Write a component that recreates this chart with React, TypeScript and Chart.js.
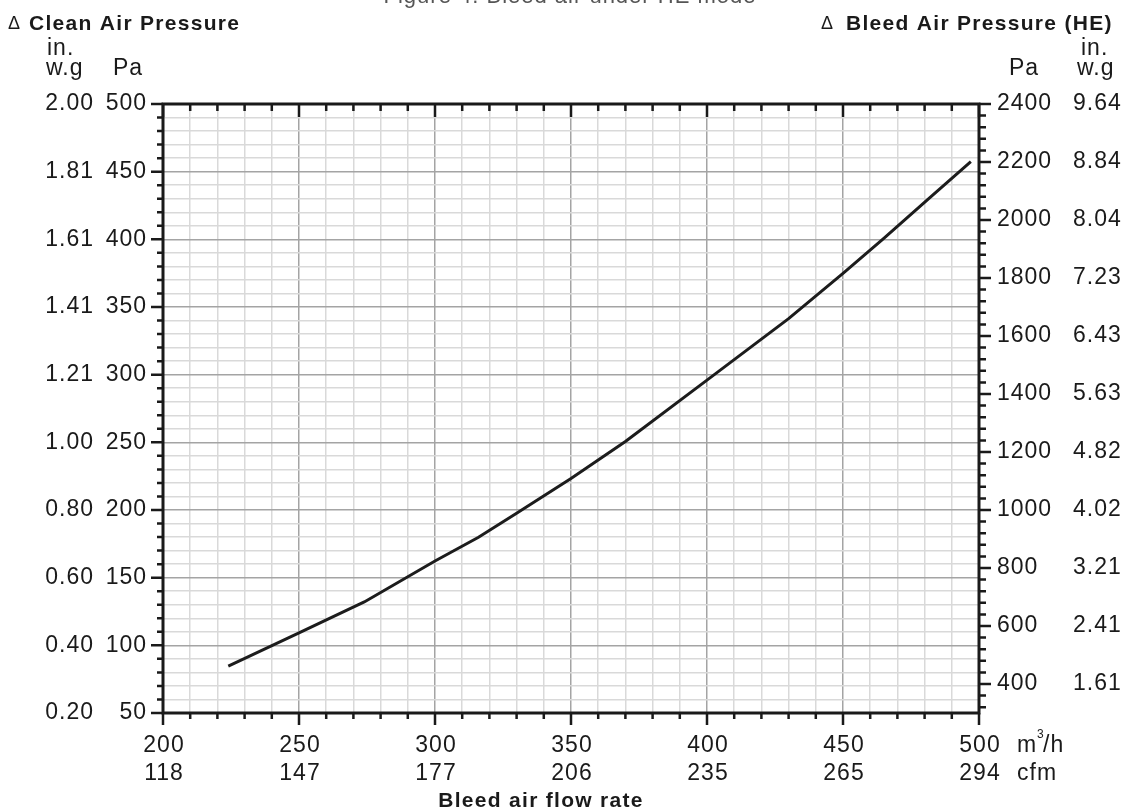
import React, { useEffect, useRef } from 'react';
import { Chart, registerables } from 'chart.js';

Chart.register(...registerables);

// ---- Data ----
const flowRate = [224, 250, 274, 300, 316, 330, 350, 370, 400, 430, 450, 465, 481, 497];
const bleedPressure = [462, 576, 683, 824, 906, 989, 1109, 1236, 1448, 1660, 1816, 1937, 2069, 2201];

// ---- Axis tick labels ----
const xMajorTicks = [200, 250, 300, 350, 400, 450, 500];
const xCfmLabels = ['118', '147', '177', '206', '235', '265', '294'];
const leftPaTicks = [500, 450, 400, 350, 300, 250, 200, 150, 100, 50];
const leftInLabels = ['2.00', '1.81', '1.61', '1.41', '1.21', '1.00', '0.80', '0.60', '0.40', '0.20'];
const rightPaTicks = [2400, 2200, 2000, 1800, 1600, 1400, 1200, 1000, 800, 600, 400];
const rightInLabels = ['9.64', '8.84', '8.04', '7.23', '6.43', '5.63', '4.82', '4.02', '3.21', '2.41', '1.61'];

const X_MIN = 200, X_MAX = 500, X_STEP = 10, X_MAJOR = 50;
const Y_MIN = 50, Y_MAX = 500, Y_STEP = 10, Y_MAJOR = 50;
const Y2_MIN = 300, Y2_MAX = 2400, Y2_STEP = 40, Y2_MAJOR = 200;

const range = (a: number, b: number, s: number) => {
  const out: number[] = [];
  for (let i = 0; a + i * s <= b + 1e-9; i++) out.push(a + i * s);
  return out;
};

const xGrid = range(X_MIN, X_MAX, X_STEP);
const yGrid = range(Y_MIN, Y_MAX, Y_STEP);
const y2Minor = range(Y2_MIN + 20, Y2_MAX, Y2_STEP);

const TEXT = '#1a1a1a';
const FONT = '"Liberation Sans", Arial, Helvetica, sans-serif';

const decorPlugin = {
  id: 'decor',
  afterDraw(chart: any) {
    const { ctx, chartArea: a, scales } = chart;
    const x = scales.x, y = scales.y, y2 = scales.y2;
    ctx.save();
    // tick marks
    ctx.strokeStyle = TEXT;
    ctx.lineWidth = 2.5;
    ctx.beginPath();
    xGrid.forEach((v) => {
      const px = x.getPixelForValue(v);
      const len = v % X_MAJOR === 0 ? 12 : 6;
      ctx.moveTo(px, a.bottom);
      ctx.lineTo(px, a.bottom + len);
      ctx.moveTo(px, a.top);
      ctx.lineTo(px, a.top + len + 1);
    });
    yGrid.forEach((v) => {
      const py = y.getPixelForValue(v);
      const len = v % Y_MAJOR === 0 ? 12 : 6;
      ctx.moveTo(a.left, py);
      ctx.lineTo(a.left - len, py);
    });
    y2Minor.forEach((v) => {
      const py = y2.getPixelForValue(v);
      const len = v % Y2_MAJOR === 0 ? 12 : 7;
      ctx.moveTo(a.right, py);
      ctx.lineTo(a.right + len, py);
    });
    ctx.stroke();
    // frame
    ctx.lineWidth = 3;
    ctx.strokeRect(a.left, a.top, a.right - a.left, a.bottom - a.top);

    // tick labels
    ctx.fillStyle = TEXT;
    ctx.font = `23px ${FONT}`;
    (ctx as any).letterSpacing = '1px';
    ctx.textBaseline = 'middle';
    ctx.textAlign = 'right';
    leftPaTicks.forEach((v, i) => {
      const py = y.getPixelForValue(v);
      ctx.fillText(String(v), a.left - 16, py);
      ctx.fillText(leftInLabels[i], a.left - 69, py);
    });
    ctx.textAlign = 'left';
    rightPaTicks.forEach((v, i) => {
      const py = y2.getPixelForValue(v);
      ctx.fillText(String(v), a.right + 18, py);
      ctx.fillText(rightInLabels[i], a.right + 94, py);
    });
    ctx.textBaseline = 'alphabetic';
    ctx.textAlign = 'center';
    xMajorTicks.forEach((v, i) => {
      const px = x.getPixelForValue(v) + 1;
      ctx.fillText(String(v), px, a.bottom + 39);
      ctx.fillText(xCfmLabels[i], px, a.bottom + 67);
    });
    // units
    ctx.textAlign = 'left';
    ctx.fillText('m', a.right + 38, a.bottom + 39);
    ctx.fillText('/h', a.right + 64, a.bottom + 39);
    ctx.fillText('cfm', a.right + 38, a.bottom + 67);
    ctx.font = `12px ${FONT}`;
    (ctx as any).letterSpacing = '0px';
    ctx.fillText('3', a.right + 58, a.bottom + 25);

    ctx.font = `23px ${FONT}`;
    (ctx as any).letterSpacing = '1px';
    ctx.fillText('in.', 47, 55);
    ctx.fillText('w.g', 46, 75);
    ctx.fillText('Pa', 113, 75);
    ctx.fillText('Pa', 1009, 75);
    ctx.fillText('in.', 1081, 55);
    ctx.fillText('w.g', 1077, 75);

    // axis titles
    ctx.font = `18px ${FONT}`;
    (ctx as any).letterSpacing = '0px';
    ctx.fillText('\u0394', 8, 29);
    ctx.fillText('\u0394', 821, 29);
    ctx.font = `bold 21px ${FONT}`;
    (ctx as any).letterSpacing = '1.3px';
    ctx.fillText('Clean Air Pressure', 29, 30);
    ctx.fillText('Bleed Air Pressure (HE)', 846, 30);
    ctx.textAlign = 'center';
    ctx.fillText('Bleed air flow rate', 541, 807);

    // chart title (mostly cut off at the top edge)
    ctx.font = `22px ${FONT}`;
    (ctx as any).letterSpacing = '1px';
    ctx.fillStyle = '#555';
    ctx.fillText('Figure 4. Bleed air under HE mode', 570, 3);
    ctx.restore();
  },
};

export default function App() {
  const ref = useRef<HTMLCanvasElement>(null);
  useEffect(() => {
    const chart = new Chart(ref.current as HTMLCanvasElement, {
      type: 'line',
      data: {
        datasets: [
          {
            data: flowRate.map((f, i) => ({ x: f, y: bleedPressure[i] })),
            yAxisID: 'y2',
            borderColor: '#1c1c1c',
            borderWidth: 3,
            pointRadius: 0,
            tension: 0,
            fill: false,
          },
        ],
      },
      options: {
        responsive: false,
        animation: false,
        devicePixelRatio: 1,
        layout: { padding: { left: 163, right: 157, top: 104, bottom: 99 } },
        plugins: { legend: { display: false }, tooltip: { enabled: false }, title: { display: false } },
        scales: {
          x: {
            type: 'linear',
            min: X_MIN,
            max: X_MAX,
            afterBuildTicks: (s: any) => {
              s.ticks = xGrid.map((v) => ({ value: v }));
            },
            ticks: { display: false },
            border: { display: false },
            grid: {
              drawTicks: false,
              color: (c: any) => (c.tick && c.tick.value % X_MAJOR === 0 ? '#a4a4a4' : '#d9d9d9'),
              lineWidth: 1.5,
            },
          },
          y: {
            type: 'linear',
            position: 'left',
            min: Y_MIN,
            max: Y_MAX,
            afterBuildTicks: (s: any) => {
              s.ticks = yGrid.map((v) => ({ value: v }));
            },
            ticks: { display: false },
            border: { display: false },
            grid: {
              drawTicks: false,
              color: (c: any) => (c.tick && c.tick.value % Y_MAJOR === 0 ? '#a4a4a4' : '#d9d9d9'),
              lineWidth: 1.5,
            },
          },
          y2: {
            type: 'linear',
            position: 'right',
            min: Y2_MIN,
            max: Y2_MAX,
            ticks: { display: false },
            border: { display: false },
            grid: { display: false, drawTicks: false },
          },
        },
      } as any,
      plugins: [decorPlugin],
    });
    return () => chart.destroy();
  }, []);
  return (
    <div style={{ position: 'absolute', left: 0, top: 0, width: 1136, height: 812, background: '#fff' }}>
      <canvas ref={ref} width={1136} height={812} style={{ display: 'block', width: 1136, height: 812 }} />
    </div>
  );
}
